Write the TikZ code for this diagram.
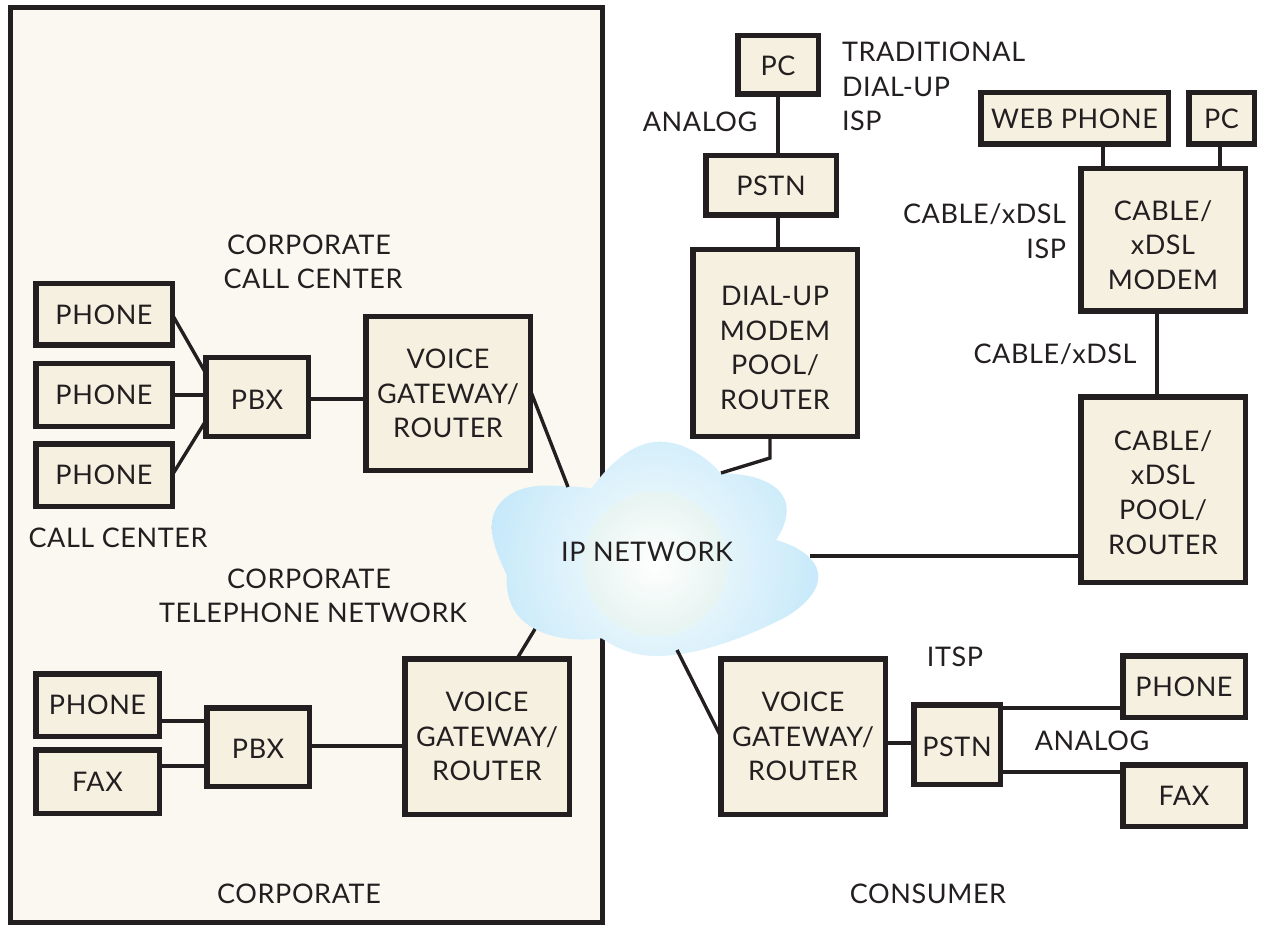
\documentclass[tikz,border=0pt]{standalone}
\usepackage{fontspec}
\setmainfont{Lato}[LetterSpace=2.2]
\definecolor{ink}{HTML}{231F20}
\definecolor{boxfill}{HTML}{F5F0E0}
\definecolor{corpfill}{HTML}{FBF8F1}
\definecolor{cl0}{HTML}{FFFFFF}
\definecolor{cl1}{HTML}{E7F4F1}
\definecolor{cl2}{HTML}{E3F4FB}
\definecolor{cl3}{HTML}{C6E9FA}
\pgfdeclareradialshading{cloudshade}{\pgfpoint{0bp}{0bp}}{
 color(0bp)=(cl0);
 color(8.8bp)=(cl1);
 color(9.2bp)=(cl2);
 color(21bp)=(cl3);
 color(50bp)=(cl3)}
\tikzset{
 x=1pt,y=-1pt,
 lbl/.style={font=\fontsize{27}{34.6}\selectfont,text=ink,align=center,inner sep=0,outer sep=0},
 boxn/.style={lbl,draw=ink,fill=boxfill,line width=5.5pt,rectangle,outer sep=0,inner sep=0},
 wire/.style={draw=ink,line width=3.4pt},
}
% pushes a node's text down by #1 inside its box
\newcommand{\dn}[1]{\rule{0pt}{\dimexpr 19.5pt+2\dimexpr #1pt\relax\relax}}
\begin{document}
\begin{tikzpicture}
\useasboundingbox (0,0) rectangle (1275,925);
\fill[white] (0,0) rectangle (1275,925);
\draw[draw=ink,fill=corpfill,line width=5pt] (10.5,7.5) rectangle (602,922);

% cloud
\begin{scope}[shift={(480,420)},xscale=1/3,yscale=1/3]
\begin{scope}
\clip (335,205)
 .. controls (400,115) and (470,65) .. (540,65)
 .. controls (610,65) and (680,110) .. (722,160)
 .. controls (840,160) and (920,200) .. (920,270)
 .. controls (920,305) and (905,335) .. (888,360)
 .. controls (960,380) and (1015,420) .. (1015,470)
 .. controls (1015,520) and (960,570) .. (900,600)
 .. controls (780,660) and (640,708) .. (530,708)
 .. controls (460,708) and (410,685) .. (365,655)
 .. controls (290,665) and (200,655) .. (145,615)
 .. controls (95,580) and (78,530) .. (80,465)
 .. controls (60,420) and (35,370) .. (35,320)
 .. controls (35,240) and (110,195) .. (200,197)
 .. controls (250,197) and (295,200) .. (335,205) -- cycle;
\shade[shading=cloudshade] (525-600,430-600) rectangle (525+600,430+600);
\end{scope}
\end{scope}

\node[lbl] (ip) at (647,552) {IP NETWORK};

% boxes: outer edges x1 y1 x2 y2
\def\B#1#2#3#4#5#6{\node[boxn,minimum width={#4-#2-3.5},minimum height={#5-#3-3.5}] (#1) at ({(#2+#4)/2},{(#3+#5)/2}) {#6};}
\B{pc}{736}{34}{820}{96}{\dn{1}PC}
\B{pstn}{704}{154}{838}{217}{PSTN}
\B{dial}{691}{248}{859}{438}{\dn{5}DIAL-UP\\MODEM\\POOL/\\ROUTER}
\B{web}{979}{91}{1170}{146}{WEB PHONE}
\B{pcb}{1187}{91}{1256}{146}{PC}
\B{modem}{1079}{167}{1247}{313}{\dn{5}CABLE/\\xDSL\\MODEM}
\B{pool}{1079}{395}{1247}{584}{\dn{3}CABLE/\\xDSL\\POOL/\\ROUTER}
\B{pha}{34}{282}{174}{347}{PHONE}
\B{phb}{34}{362}{174}{428}{PHONE}
\B{phc}{34}{442}{174}{508}{PHONE}
\B{pbxa}{204}{356}{310}{438}{\dn{3}PBX}
\B{vga}{364}{315}{532}{472}{VOICE\\GATEWAY/\\ROUTER}
\B{vgb}{403}{657}{571}{816}{VOICE\\GATEWAY/\\ROUTER}
\B{pbxb}{205}{706}{311}{788}{\dn{2}PBX}
\B{phd}{34}{672}{161}{738}{PHONE}
\B{faxa}{34}{748}{161}{815}{FAX}
\B{vgc}{719}{657}{887}{816}{VOICE\\GATEWAY/\\ROUTER}
\B{pstnb}{912}{703}{1002}{786}{\dn{2}PSTN}
\B{phe}{1121}{654}{1247}{719}{PHONE}
\B{faxb}{1121}{763}{1247}{828}{FAX}

% free connector ends on the cloud
\coordinate (cA) at (568,487);
\coordinate (cB) at (535,629);
\coordinate (cC) at (677,650);
\coordinate (cD) at (721,473);
\coordinate (cE) at (810,556);
\coordinate (kink) at (770,458);

% connectors
\draw[wire] (pc.south -| 778,0) -- (pstn.north -| 778,0);
\draw[wire] (pstn.south -| 778,0) -- (dial.north -| 778,0);
\draw[wire] (dial.south -| kink) -- (kink) -- (cD);
\draw[wire] (web.south -| 1103,0) -- (modem.north -| 1103,0);
\draw[wire] (pcb.south -| 1220,0) -- (modem.north -| 1220,0);
\draw[wire] (modem.south -| 1157,0) -- (pool.north -| 1157,0);
\draw[wire] (pool.west |- cE) -- (cE);
\draw[wire] (pha.east) -- (pbxa.155);
\draw[wire] (phb.east) -- (pbxa.west |- phb.east);
\draw[wire] (phc.east) -- (pbxa.205);
\draw[wire] (pbxa.east |- 0,399) -- (vga.west |- 0,399);
\draw[wire] (vga.east |- 0,390) -- (cA);
\draw[wire] (vgb.north -| 517,0) -- (cB);
\draw[wire] (vgc.west) -- (cC);
\draw[wire] (pbxb.east |- 0,746) -- (vgb.west |- 0,746);
\draw[wire] (phd.east |- 0,721) -- (pbxb.west |- 0,721);
\draw[wire] (faxa.east |- 0,766) -- (pbxb.west |- 0,766);
\draw[wire] (vgc.east |- 0,743) -- (pstnb.west |- 0,743);
\draw[wire] (pstnb.east |- 0,708) -- (phe.west |- 0,708);
\draw[wire] (pstnb.east |- 0,772) -- (faxb.west |- 0,772);

% labels
\node[lbl] (t1) at (309,245) {CORPORATE};
\node[lbl] (t2) at (313,279) {CALL CENTER};
\node[lbl] (t3) at (118,538) {CALL CENTER};
\node[lbl] (t4) at (309,579) {CORPORATE};
\node[lbl] (t5) at (313,613) {TELEPHONE NETWORK};
\node[lbl] (t6) at (299,894) {CORPORATE};
\node[lbl] (t7) at (928,894) {CONSUMER};
\node[lbl] (t8) at (700,122) {ANALOG};
\node[lbl,anchor=north west,align=left] (t9) at (842,42) {TRADITIONAL\\DIAL-UP\\ISP};
\node[lbl,align=right,anchor=east] (t10) at (1066,231) {CABLE/xDSL\\ISP};
\node[lbl] (t11) at (1055,354) {CABLE/xDSL};
\node[lbl] (t12) at (955,657) {ITSP};
\node[lbl] (t13) at (1092,741) {ANALOG};
\end{tikzpicture}
\end{document}
